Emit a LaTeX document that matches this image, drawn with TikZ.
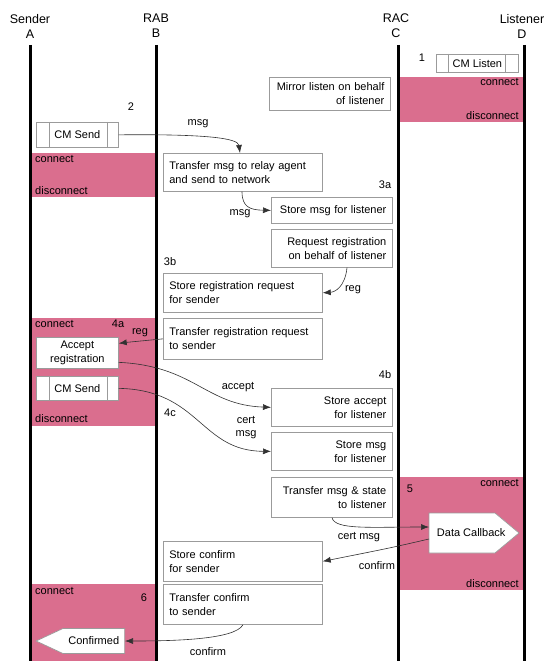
\documentclass[tikz,border=0pt]{standalone}
\usepackage{fontspec}
\setmainfont{Liberation Sans}
\usetikzlibrary{shapes.symbols,arrows.meta}
\definecolor{pinkreg}{RGB}{218,110,142}
\definecolor{boxgray}{RGB}{155,155,155}
\definecolor{arrgray}{RGB}{50,50,50}
\tikzset{
  txt/.style={font=\fontsize{11}{14}\selectfont, inner sep=0pt},
  head/.style={font=\fontsize{12.5}{15}\selectfont, inner sep=0pt},
  region/.style={fill=pinkreg, draw=none},
  life/.style={line width=3pt, draw=black},
  lbox/.style={draw=boxgray, fill=white, line width=0.7pt, anchor=north west,
    font=\fontsize{11}{14}\selectfont, minimum width=159pt, text width=147pt,
    inner xsep=6pt, inner ysep=0pt, align=left},
  rbox/.style={draw=boxgray, fill=white, line width=0.7pt, anchor=north west,
    font=\fontsize{11}{14}\selectfont, minimum width=121pt, text width=109pt,
    inner xsep=6pt, inner ysep=0pt, align=right},
  cmbox/.style={draw=boxgray, fill=white, line width=0.7pt, anchor=north west,
    font=\fontsize{11}{14}\selectfont, minimum width=82pt, inner sep=0pt},
  arr/.style={draw=arrgray, line width=0.6pt, -{Latex[length=8pt,width=6pt]}},
  lbl/.style={font=\fontsize{11}{13}\selectfont, inner sep=0pt, align=center},
  pent/.style={draw=boxgray, fill=white, line width=0.7pt},
}
\begin{document}
\begin{tikzpicture}[x=1pt,y=-1pt]
\useasboundingbox (0,0) rectangle (554,671);
\fill[white] (0,0) rectangle (554,671);

% activation regions
\fill[region] (398,77) rectangle (524,122);
\fill[region] (30,153) rectangle (156,197);
\fill[region] (30,318) rectangle (156,426);
\fill[region] (398,477) rectangle (524,590);
\fill[region] (30,584) rectangle (156,661);

% headers
\node[head, align=center] (hA) at (30,26) {Sender\\A};
\node[head, align=center] (hB) at (156,26) {RAB\\B};
\node[head, align=center] (hC) at (396,26) {RAC\\C};
\node[head, align=center] (hD) at (522,26) {Listener\\D};

% lifelines
\coordinate (At) at (30,45);  \coordinate (Ab) at (30,661);
\coordinate (Bt) at (156,45); \coordinate (Bb) at (156,661);
\coordinate (Ct) at (398,45); \coordinate (Cb) at (398,661);
\coordinate (Dt) at (524,45); \coordinate (Db) at (524,661);
\draw[life] (At) -- (Ab);
\draw[life] (Bt) -- (Bb);
\draw[life] (Ct) -- (Cb);
\draw[life] (Dt) -- (Db);

% region labels
\node[txt, anchor=east] (c1) at (519,82) {connect};
\node[txt, anchor=east] (d1) at (519,116) {disconnect};
\node[txt, anchor=west] (c2) at (35,159) {connect};
\node[txt, anchor=west] (d2) at (35,191) {disconnect};
\node[txt, anchor=west] (c3) at (35,324) {connect};
\node[txt, anchor=west] (d3) at (35,419) {disconnect};
\node[txt, anchor=east] (c4) at (519,483) {connect};
\node[txt, anchor=east] (d4) at (519,584) {disconnect};
\node[txt, anchor=west] (c5) at (35,591) {connect};

% step numbers
\node[txt] (s1) at (422,58) {1};
\node[txt] (s2) at (131,107) {2};
\node[txt] (s3a) at (385,185) {3a};
\node[txt] (s3b) at (170,262) {3b};
\node[txt] (s4a) at (118,324) {4a};
\node[txt] (s4b) at (385,375) {4b};
\node[txt] (s4c) at (170,413) {4c};
\node[txt] (s5) at (410,489) {5};
\node[txt] (s6) at (144,598) {6};

% CM boxes
\node[cmbox, minimum height=18pt] (cml) at (436,54) {CM Listen};
\draw[boxgray, line width=0.7pt] ([xshift=12pt]cml.north west) -- ([xshift=12pt]cml.south west)
  ([xshift=-13pt]cml.north east) -- ([xshift=-13pt]cml.south east);
\node[cmbox, minimum height=25pt] (cms1) at (36,122) {CM Send};
\draw[boxgray, line width=0.7pt] ([xshift=13pt]cms1.north west) -- ([xshift=13pt]cms1.south west)
  ([xshift=-11pt]cms1.north east) -- ([xshift=-11pt]cms1.south east);
\node[cmbox, minimum height=31pt, align=center, font=\fontsize{11}{14}\selectfont] (acc) at (36,337) {Accept\\registration};
\node[cmbox, minimum height=24pt] (cms2) at (36,376) {CM Send};
\draw[boxgray, line width=0.7pt] ([xshift=13pt]cms2.north west) -- ([xshift=13pt]cms2.south west)
  ([xshift=-11pt]cms2.north east) -- ([xshift=-11pt]cms2.south east);

% text boxes
\node[rbox, minimum height=33pt] (mir) at (269,77) {Mirror listen on behalf\\of listener};
\node[lbox, minimum height=38pt] (tr1) at (163,153) {Transfer msg to relay agent\\and send to network};
\node[rbox, minimum height=26pt] (sm1) at (271,197) {Store msg for listener};
\node[rbox, minimum height=38pt] (rr) at (271,229) {Request registration\\on behalf of listener};
\node[lbox, minimum height=39pt] (srr) at (163,273) {Store registration request\\for sender};
\node[lbox, minimum height=41pt] (trr) at (163,318) {Transfer registration request\\to sender};
\node[rbox, minimum height=38pt] (sa) at (271,388) {Store accept\\for listener};
\node[rbox, minimum height=38pt] (sm2) at (271,432) {Store msg\\for listener};
\node[rbox, minimum height=40pt] (tms) at (271,477) {Transfer msg \& state\\to listener};
\node[lbox, minimum height=40pt] (sc) at (163,541) {Store confirm\\for sender};
\node[lbox, minimum height=40pt] (tc) at (163,584) {Transfer confirm\\to sender};

% pentagon nodes
\draw[pent] (429,513) -- (495,513) -- (519,533) -- (495,553) -- (429,553) -- cycle;
\node[font=\fontsize{11}{14}\selectfont, inner sep=0pt, minimum width=84pt, minimum height=40pt,
  anchor=west] (dc) at (429,533) {Data Callback};
\node[signal, signal to=west, signal pointer angle=50, draw=boxgray, fill=white, line width=0.7pt,
  font=\fontsize{11}{14}\selectfont, minimum height=25pt, inner xsep=5.5pt,
  anchor=east] (conf) at (125,641) {Confirmed};

% connectors
\draw[arr] (cms1.east) .. controls (205,134) and (238,138) .. ([xshift=77pt]tr1.north west);
\node[lbl] (l1) at (198,124) {msg};
\draw[arr] ([xshift=79pt]tr1.south west) .. controls (242,207) and (250,210) .. (sm1.west);
\node[lbl] (l2) at (240,214) {msg};
\draw[arr] ([xshift=76pt]rr.south west) .. controls (345,287) and (335,292) .. (srr.east);
\node[lbl] (l3) at (353,290) {reg};
\draw[arr] (trr.west) .. controls (145,340) .. ([yshift=9.5pt]acc.east);
\node[lbl] (l4) at (140,333) {reg};
\draw[arr] ([yshift=-9.5pt]acc.east) .. controls (195,366) and (205,405) .. (sa.west);
\node[lbl] (l5) at (238,387) {accept};
\draw[arr] (cms2.east) .. controls (200,390) and (200,451) .. (sm2.west);
\node[lbl, font=\fontsize{11}{13}\selectfont] (l6) at (246,428) {cert\\msg};
\draw[arr] ([xshift=61pt]tms.south west) .. controls (335,530) and (370,527) .. ([yshift=6pt]dc.west);
\node[lbl] (l7) at (359,537) {cert msg};
\draw[arr] ([yshift=-6pt]dc.west) .. controls (390,548) .. (sc.east);
\node[lbl] (l8) at (377,566) {confirm};
\draw[arr] ([xshift=80pt]tc.south west) .. controls (235,640) and (170,641) .. (conf.east);
\node[lbl] (l9) at (208,652) {confirm};
\end{tikzpicture}
\end{document}
